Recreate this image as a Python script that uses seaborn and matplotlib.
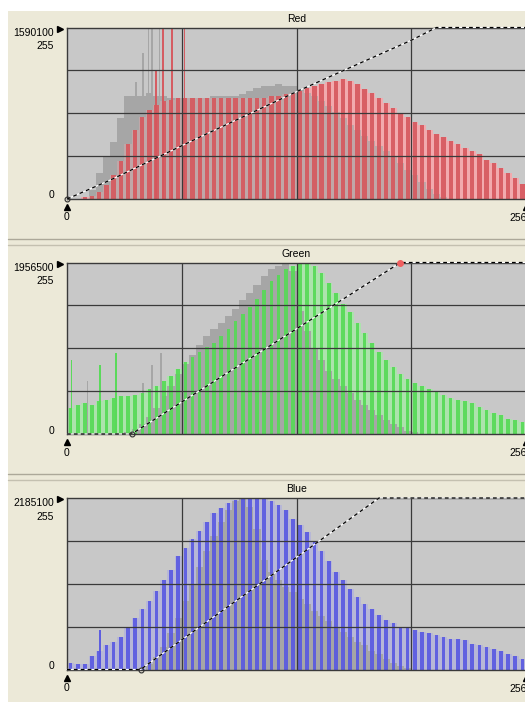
import numpy as np
import pandas as pd
import matplotlib
matplotlib.use("Agg")
import matplotlib.pyplot as plt
import seaborn as sns

# ---------------- data (fractions of each panel's peak count) ----------------
levels = list(range(0, 256, 4))

red_gray = [0, 0, 0, 0.05, 0.15, 0.25, 0.33, 0.47, 0.60, 0.60, 0.60, 0.62, 0.60, 0.60, 0.59, 0.59,
            0.59, 0.59, 0.59, 0.59, 0.60, 0.60, 0.60, 0.60, 0.61, 0.63, 0.65, 0.66, 0.66, 0.67, 0.66, 0.66,
            0.64, 0.62, 0.60, 0.57, 0.54, 0.51, 0.47, 0.43, 0.40, 0.37, 0.34, 0.31, 0.28, 0.25, 0.21, 0.17,
            0.14, 0.10, 0.06, 0.03, 0.01, 0, 0, 0, 0, 0, 0, 0, 0, 0, 0, 0]
red_color = [0, 0, 0.01, 0.02, 0.04, 0.08, 0.14, 0.22, 0.32, 0.40, 0.48, 0.52, 0.55, 0.57, 0.58, 0.59,
             0.59, 0.59, 0.59, 0.59, 0.59, 0.59, 0.59, 0.59, 0.59, 0.59, 0.59, 0.59, 0.60, 0.60, 0.61, 0.62,
             0.63, 0.65, 0.66, 0.67, 0.68, 0.69, 0.70, 0.69, 0.67, 0.64, 0.62, 0.59, 0.56, 0.53, 0.50, 0.48,
             0.45, 0.43, 0.40, 0.38, 0.36, 0.34, 0.32, 0.30, 0.28, 0.26, 0.23, 0.21, 0.18, 0.15, 0.12, 0.09]
red_spike_levels = [49, 53, 58, 65]
red_spike_values = [0.75, 1.0, 1.0, 1.0]
red_gray_spike_levels = [38, 42, 45, 47, 51]
red_gray_spike_values = [0.68, 0.85, 1.0, 1.0, 1.0]
red_curve_in = [0, 24, 74, 130, 155, 192, 206, 256]
red_curve_out = [0, 28, 92, 162, 192, 236, 255, 255]

green_gray = [0, 0, 0, 0, 0, 0, 0, 0, 0.01, 0.03, 0.06, 0.10, 0.15, 0.22, 0.28, 0.35,
              0.41, 0.46, 0.52, 0.57, 0.61, 0.65, 0.69, 0.73, 0.78, 0.82, 0.87, 0.92, 0.96, 0.98, 1.0, 0.95,
              0.72, 0.60, 0.50, 0.43, 0.37, 0.32, 0.28, 0.24, 0.20, 0.17, 0.14, 0.11, 0.08, 0.06, 0.04, 0.02,
              0.01, 0, 0, 0, 0, 0, 0, 0, 0, 0, 0, 0, 0, 0, 0, 0]
green_color = [0.15, 0.17, 0.18, 0.17, 0.19, 0.20, 0.21, 0.22, 0.22, 0.23, 0.24, 0.26, 0.28, 0.31, 0.34, 0.38,
               0.42, 0.45, 0.48, 0.51, 0.53, 0.57, 0.61, 0.66, 0.70, 0.74, 0.79, 0.84, 0.89, 0.93, 0.96, 0.98,
               0.99, 1.0, 0.98, 0.94, 0.88, 0.82, 0.76, 0.71, 0.65, 0.59, 0.53, 0.48, 0.43, 0.39, 0.35, 0.32,
               0.30, 0.28, 0.26, 0.25, 0.23, 0.21, 0.20, 0.19, 0.18, 0.16, 0.14, 0.12, 0.11, 0.09, 0.08, 0.07]
green_spike_levels = [2, 18, 27]
green_spike_values = [0.43, 0.40, 0.47]
green_gray_spike_levels = [11, 42, 47, 52]
green_gray_spike_values = [0.31, 0.30, 0.40, 0.47]
green_curve_in = [0, 36, 186, 256]
green_curve_out = [0, 0, 255, 255]

blue_gray = [0, 0, 0, 0, 0, 0, 0, 0, 0, 0, 0, 0.03, 0.07, 0.13, 0.21, 0.30,
             0.40, 0.50, 0.60, 0.69, 0.78, 0.86, 0.93, 0.98, 1.0, 0.95, 0.82, 0.64, 0.57, 0.52, 0.48, 0.45,
             0.41, 0.38, 0.34, 0.31, 0.28, 0.25, 0.22, 0.19, 0.16, 0.14, 0.11, 0.09, 0.06, 0.04, 0.02, 0.01,
             0, 0, 0, 0, 0, 0, 0, 0, 0, 0, 0, 0, 0, 0, 0, 0]
blue_color = [0.04, 0.03, 0.03, 0.08, 0.11, 0.14, 0.16, 0.19, 0.25, 0.30, 0.35, 0.40, 0.46, 0.52, 0.58, 0.66,
              0.71, 0.76, 0.81, 0.86, 0.91, 0.94, 0.97, 0.99, 1.0, 1.0, 1.0, 1.0, 0.98, 0.96, 0.93, 0.88,
              0.84, 0.80, 0.75, 0.69, 0.63, 0.57, 0.52, 0.47, 0.42, 0.38, 0.35, 0.32, 0.29, 0.27, 0.25, 0.24,
              0.23, 0.22, 0.21, 0.20, 0.19, 0.18, 0.18, 0.17, 0.15, 0.14, 0.13, 0.12, 0.11, 0.09, 0.08, 0.06]
blue_spike_levels = [18]
blue_spike_values = [0.23]
blue_gray_spike_levels = []
blue_gray_spike_values = []
blue_curve_in = [0, 41, 174, 256]
blue_curve_out = [0, 0, 255, 255]

panel_titles = ["Red", "Green", "Blue"]
peak_labels = ["1590100", "1956500", "2185100"]

# ---------------- styling ----------------
sns.set_theme(style="white")
plt.rcParams["font.family"] = ["Liberation Sans", "DejaVu Sans"]

W, H = 525, 702
BEIGE = "#ECE9D8"
PLOT_BG = "#C8C8C8"
GRAY_HIST = "#A6A6A6"
GRID = "#3A3A3A"
FS = 7.5

fig = plt.figure(figsize=(W / 100, H / 100), dpi=100, facecolor=BEIGE)

PL, PR, PH = 67, 526, 171.5
tops = [27.5, 262.5, 498.0]

panels = [
    dict(gray=red_gray, color=red_color, sl=red_spike_levels, sv=red_spike_values,
         gsl=red_gray_spike_levels, gsv=red_gray_spike_values,
         cin=red_curve_in, cout=red_curve_out,
         bar="#D6575D", tint="#F2AAAE", tint_alpha=1.0, over_alpha=0.35, shrink=0.6,
         marker_pt=(0, 0), top_dot=None),
    dict(gray=green_gray, color=green_color, sl=green_spike_levels, sv=green_spike_values,
         gsl=green_gray_spike_levels, gsv=green_gray_spike_values,
         cin=green_curve_in, cout=green_curve_out,
         bar="#55DA55", tint="#A6EAA6", tint_alpha=0.8, over_alpha=0.0, shrink=0.5,
         marker_pt=(36, 0), top_dot=(186, 255)),
    dict(gray=blue_gray, color=blue_color, sl=blue_spike_levels, sv=blue_spike_values,
         gsl=blue_gray_spike_levels, gsv=blue_gray_spike_values,
         cin=blue_curve_in, cout=blue_curve_out,
         bar="#5858E2", tint="#A8A8E6", tint_alpha=0.5, over_alpha=0.0, shrink=0.5,
         marker_pt=(41, 0), top_dot=None),
]


def hist(ax, lv, vals, width, shrink, color, alpha):
    if len(lv) == 0 or alpha <= 0:
        return
    df = pd.DataFrame({"level": [l + width / 2 for l in lv], "count": list(vals)})
    edges = list(range(0, 256 + width, width))
    sns.histplot(data=df, x="level", weights="count", bins=edges,
                 shrink=shrink, color=color, alpha=alpha, linewidth=0,
                 ax=ax, element="bars", legend=False)


for T, p, title, peak in zip(tops, panels, panel_titles, peak_labels):
    ax = fig.add_axes([PL / W, 1 - (T + PH) / H, (PR - PL) / W, PH / H])
    ax.set_facecolor(PLOT_BG)
    hist(ax, levels, p["color"], 4, 1.0, p["tint"], p["tint_alpha"])
    hist(ax, levels, p["gray"], 4, 1.0, GRAY_HIST, 1.0)
    hist(ax, p["gsl"], p["gsv"], 1, 0.9, GRAY_HIST, 1.0)
    hist(ax, levels, p["color"], 4, 1.0, p["tint"], p["over_alpha"])
    hist(ax, levels, p["color"], 4, p["shrink"], p["bar"], 0.9)
    hist(ax, p["sl"], p["sv"], 1, 0.9, p["bar"], 0.95)
    ax.set_xlim(0, 256)
    ax.set_ylim(0, 1)
    ax.set_xticks([64, 128, 192])
    ax.set_yticks([0.25, 0.5, 0.75])
    ax.grid(True, color=GRID, linewidth=0.9)
    ax.set_axisbelow(False)
    ax.tick_params(length=0, labelleft=False, labelbottom=False)
    ax.set_xlabel("")
    ax.set_ylabel("")
    for s in ax.spines.values():
        s.set_color(GRID)
        s.set_linewidth(1.0)

    ax2 = ax.twinx()
    ax2.set_ylim(0, 255)
    ax2.set_xlim(0, 256)
    sns.lineplot(x=p["cin"], y=p["cout"], ax=ax2, color="white", linewidth=0.9, clip_on=False)
    sns.lineplot(x=p["cin"], y=p["cout"], ax=ax2, color="black", linewidth=0.9,
                 linestyle=(0, (3, 2.5)), clip_on=False)
    ax2.plot([p["marker_pt"][0]], [p["marker_pt"][1]], marker="o", markersize=3.5,
             markerfacecolor="none", markeredgecolor="#303030", markeredgewidth=0.8, clip_on=False)
    if p["top_dot"] is not None:
        ax2.plot([p["top_dot"][0]], [p["top_dot"][1]], marker="o", markersize=4,
                 color="#F06060", clip_on=False)
    ax2.set_xlim(0, 256)
    ax2.set_ylim(0, 255)
    ax2.set_yticks([])
    ax2.set_ylabel("")
    for s in ax2.spines.values():
        s.set_visible(False)

# ---------------- decorations / labels in pixel space ----------------
deco = fig.add_axes([0, 0, 1, 1], zorder=10)
deco.set_xlim(0, W)
deco.set_ylim(H, 0)
deco.axis("off")
deco.patch.set_alpha(0)

deco.add_patch(plt.Rectangle((0, 0), W, 10.5, color="white", lw=0))
deco.add_patch(plt.Rectangle((0, 0), 7.5, H, color="white", lw=0))
for y in (238.5, 473.5):
    deco.plot([7.5, W], [y, y], color="#ACA899", lw=1.0)
    deco.plot([7.5, W], [y + 6, y + 6], color="#C4C0B0", lw=1.0)

for T, title, peak in zip(tops, panel_titles, peak_labels):
    B = T + PH
    deco.text(296.5, T - 8.5, title, ha="center", va="center", fontsize=FS, color="black")
    deco.text(54, T + 5.5, peak, ha="right", va="center", fontsize=FS, color="black")
    deco.text(54, T + 18.5, "255", ha="right", va="center", fontsize=FS, color="black")
    deco.text(54, B - 3.5, "0", ha="right", va="center", fontsize=FS, color="black")
    deco.plot([60], [T + 1], marker=">", markersize=5, color="black", clip_on=False)
    deco.plot([67, 526], [B + 8, B + 8], linestyle="none", marker="^", markersize=5,
              color="black", clip_on=False)
    deco.text(67, B + 18.5, "0", ha="center", va="center", fontsize=FS, color="black")
    deco.text(509, B + 19, "256", ha="left", va="center", fontsize=FS, color="black")

fig.savefig("out.png", dpi=100, facecolor=BEIGE)
